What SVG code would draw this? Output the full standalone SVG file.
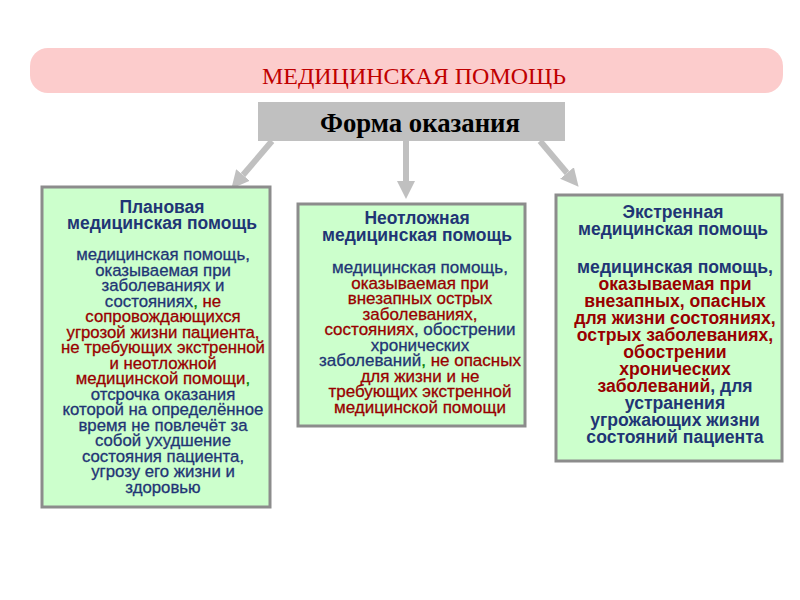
<svg xmlns="http://www.w3.org/2000/svg" width="800" height="600" viewBox="0 0 800 600">
<style>
.box{fill:#ccffcc;stroke:#8c8c8c;stroke-width:3}
.t{font-family:"Liberation Sans",Arial,sans-serif;text-anchor:middle;fill:#1f3575}
.tt{font-weight:bold;font-size:17.5px}
.b1{font-size:16.8px;stroke:#1f3575;stroke-width:0.3px}
.b2{font-size:17px;stroke:#1f3575;stroke-width:0.3px}
.b3{font-size:17.6px;font-weight:bold}
.r{fill:#990000;stroke:#990000}
.g{fill:#008000;stroke:#008000}
.b3 .r{stroke:none}
.conn{stroke:#c0c0c0;stroke-width:6;fill:none}
</style>
<defs>
<marker id="ah" viewBox="0 0 10 10" refX="0" refY="5" markerWidth="3" markerHeight="3.3" orient="auto" markerUnits="strokeWidth">
<path d="M0,0 L10,5 L0,10 z" fill="#c0c0c0"/>
</marker>
</defs>
<rect width="800" height="600" fill="#ffffff"/>
<g id="header">
<rect x="30" y="48" width="753" height="45" rx="18" fill="#fccccc"/>
<text x="414" y="84" font-family="'Liberation Serif','Times New Roman',serif" font-size="23" fill="#c00000" text-anchor="middle" textLength="304" lengthAdjust="spacingAndGlyphs">МЕДИЦИНСКАЯ ПОМОЩЬ</text>
</g>
<g id="form">
<rect x="258" y="102" width="307" height="39" fill="#c0c0c0"/>
<text x="420" y="132" font-family="'Liberation Serif','Times New Roman',serif" font-size="27" font-weight="bold" fill="#000" text-anchor="middle" textLength="200" lengthAdjust="spacingAndGlyphs">Форма оказания</text>
</g>
<g id="connectors">
<line class="conn" x1="272" y1="141" x2="243" y2="175" marker-end="url(#ah)"/>
<line class="conn" x1="406" y1="141" x2="406" y2="181" marker-end="url(#ah)"/>
<line class="conn" x1="540" y1="141" x2="567" y2="173" marker-end="url(#ah)"/>
</g>
<g id="planned">
<rect class="box" x="42" y="187" width="228" height="320"/>
<text class="t tt" x="162" y="213">Плановая</text>
<text class="t tt" x="162" y="229">медицинская помощь</text>
<g class="t b1">
<text x="163" y="260">медицинская помощь,</text>
<text x="163" y="275.5">оказываемая при</text>
<text x="163" y="291">заболеваниях и</text>
<text x="163" y="306.5">состояниях<tspan class="g">,</tspan> <tspan class="r">не</tspan></text>
<text x="163" y="322" class="r">сопровождающихся</text>
<text x="163" y="337.5" class="r">угрозой жизни пациента,</text>
<text x="163" y="353" class="r">не требующих экстренной</text>
<text x="163" y="368.5" class="r">и неотложной</text>
<text x="163" y="384"><tspan class="r">медицинской помощи</tspan><tspan class="g">,</tspan></text>
<text x="163" y="399.5">отсрочка оказания</text>
<text x="163" y="415">которой на определённое</text>
<text x="163" y="430.5">время не повлечёт за</text>
<text x="163" y="446">собой ухудшение</text>
<text x="163" y="461.5">состояния пациента,</text>
<text x="163" y="477">угрозу его жизни и</text>
<text x="163" y="492.5">здоровью</text>
</g>
</g>
<g id="urgent">
<rect class="box" x="298" y="204" width="227" height="222"/>
<text class="t tt" x="417" y="224">Неотложная</text>
<text class="t tt" x="417" y="241">медицинская помощь</text>
<g class="t b2">
<text x="420" y="273">медицинская помощь,</text>
<text x="420" y="288.5" class="r">оказываемая при</text>
<text x="420" y="304" class="r">внезапных острых</text>
<text x="420" y="319.5" class="r">заболеваниях,</text>
<text x="420" y="335"><tspan class="r">состояниях</tspan>, обострении</text>
<text x="420" y="350.5">хронических</text>
<text x="420" y="366">заболеваний<tspan class="g">,</tspan> <tspan class="r">не опасных</tspan></text>
<text x="420" y="381.5" class="r">для жизни и не</text>
<text x="420" y="397" class="r">требующих экстренной</text>
<text x="420" y="412.5" class="r">медицинской помощи</text>
</g>
</g>
<g id="emergency">
<rect class="box" x="556" y="195" width="226" height="266"/>
<text class="t tt" x="673" y="218">Экстренная</text>
<text class="t tt" x="673" y="235">медицинская помощь</text>
<g class="t b3">
<text x="675" y="273">медицинская помощь,</text>
<text x="675" y="290" class="r">оказываемая при</text>
<text x="675" y="307" class="r">внезапных, опасных</text>
<text x="675" y="324" class="r">для жизни состояниях,</text>
<text x="675" y="341" class="r">острых заболеваниях,</text>
<text x="675" y="358" class="r">обострении</text>
<text x="675" y="375" class="r">хронических</text>
<text x="675" y="392"><tspan class="r">заболеваний</tspan>, для</text>
<text x="675" y="409">устранения</text>
<text x="675" y="426">угрожающих жизни</text>
<text x="675" y="443">состояний пациента</text>
</g>
</g>
</svg>
